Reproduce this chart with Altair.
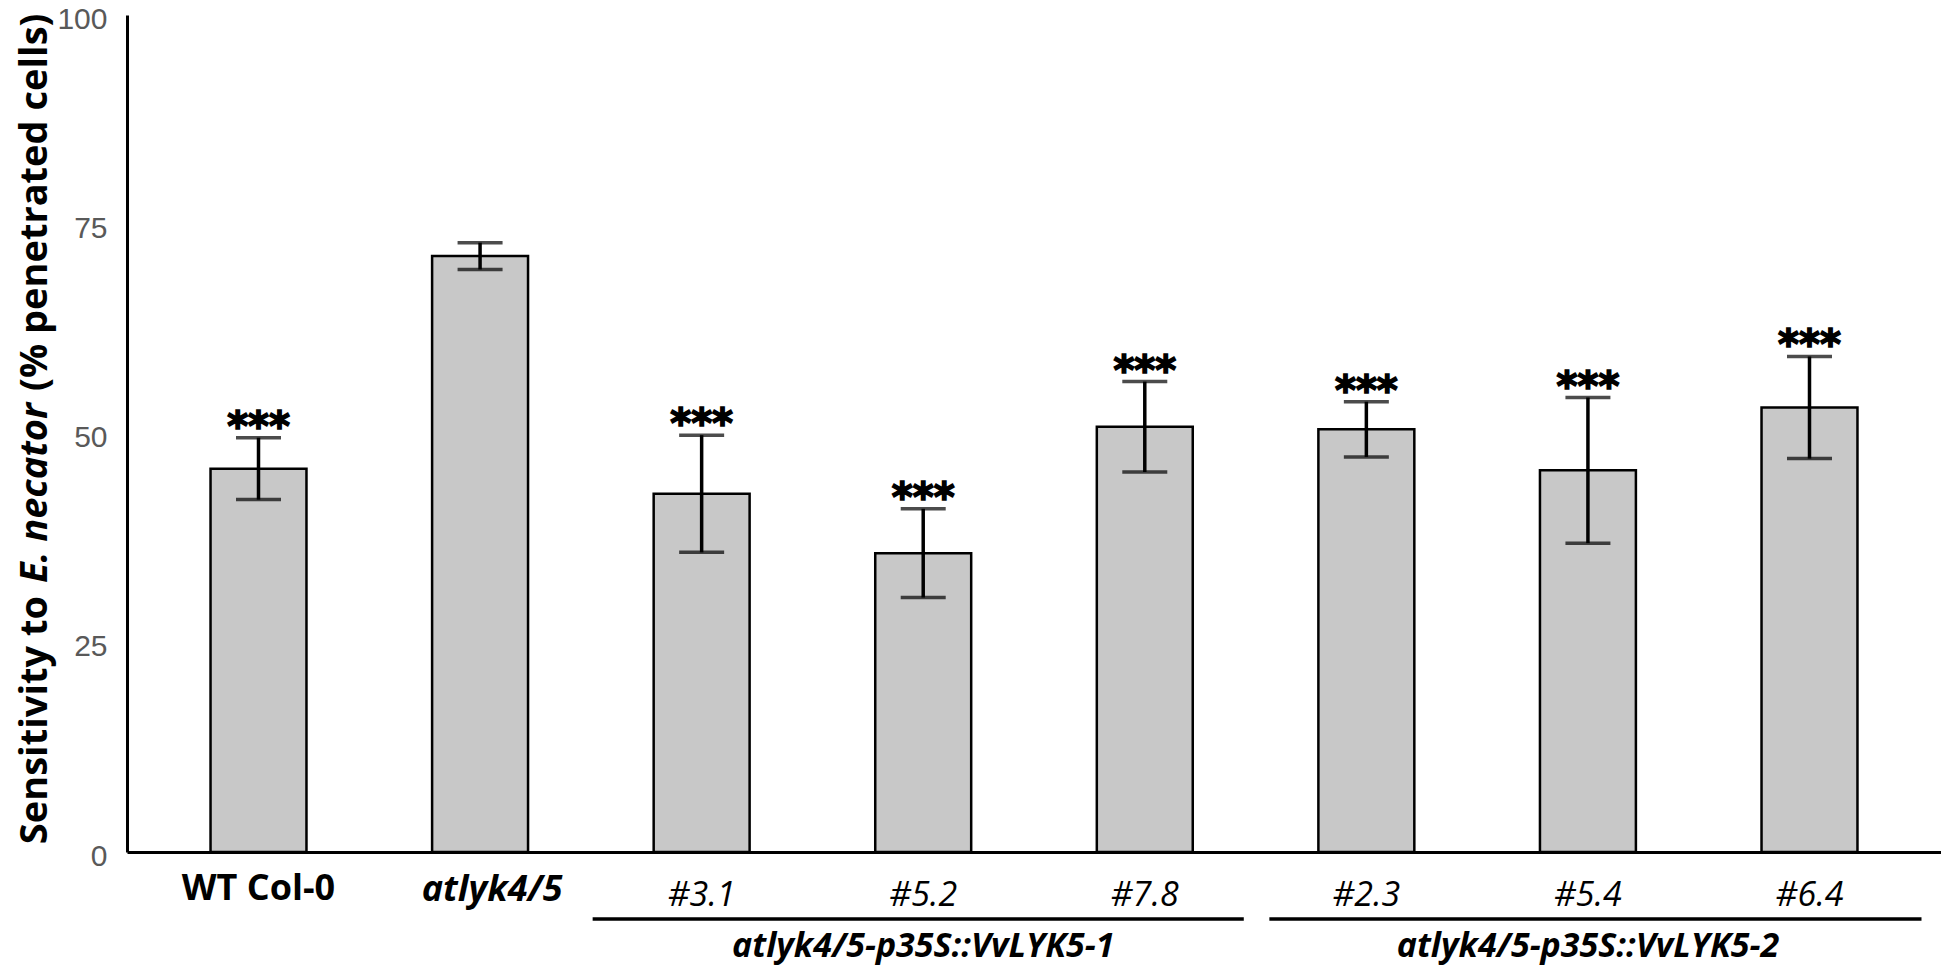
import altair as alt
import pandas as pd

# ---------------- data ----------------
categories = ["WT Col-0", "atlyk4/5", "#3.1", "#5.2", "#7.8", "#2.3", "#5.4", "#6.4"]
means = [45.8, 71.2, 42.8, 35.7, 50.8, 50.5, 45.6, 53.1]
errors = [3.7, 1.6, 7.0, 5.3, 5.4, 3.3, 8.7, 6.1]
significance = ["***", "", "***", "***", "***", "***", "***", "***"]

bold_labels = ["WT Col-0"]
bold_italic_labels = ["atlyk4/5"]
italic_labels = ["#3.1", "#5.2", "#7.8", "#2.3", "#5.4", "#6.4"]

group_names = ["atlyk4/5-p35S::VvLYK5-1", "atlyk4/5-p35S::VvLYK5-2"]
group_first = ["#3.1", "#2.3"]
group_mid = ["#5.2", "#5.4"]
group_last = ["#7.8", "#6.4"]

y_ticks = [0, 25, 50, 75, 100]
title_parts = ["Sensitivity to", "E. necator", "(% penetrated cells)"]

# ---------------- tables ----------------
df = pd.DataFrame({
    "cat": categories,
    "mean": means,
    "lo": [m - e for m, e in zip(means, errors)],
    "hi": [m + e for m, e in zip(means, errors)],
    "sig": significance,
})
groups = pd.DataFrame({"name": group_names, "first": group_first,
                       "mid": group_mid, "last": group_last})

W, H = 1814, 837
FONT = "Open Sans"

xscale = alt.Scale(domain=categories, paddingInner=0.567, paddingOuter=0.377)
x_enc = alt.X("cat:N", scale=xscale, sort=categories, title=None)
y_enc = alt.Y("mean:Q", scale=alt.Scale(domain=[0, 100], nice=False), title=None,
              axis=alt.Axis(values=y_ticks, labelFontSize=30, labelOffset=4))

base = alt.Chart(df)

bars = base.mark_bar(color="#c8c8c8", stroke="black", strokeWidth=2.5).encode(
    x=x_enc, y=y_enc)

err = base.mark_rule(color="black", strokeWidth=3.5).encode(
    x=x_enc, y=alt.Y("lo:Q", title=None), y2="hi:Q")
cap_hi = base.mark_tick(color="black", thickness=3.5, size=45).encode(
    x=x_enc, y=alt.Y("hi:Q", title=None))
cap_lo = base.mark_tick(color="black", thickness=3.5, size=45).encode(
    x=x_enc, y=alt.Y("lo:Q", title=None))

stars = base.mark_text(font="DejaVu Sans", fontWeight="bold", fontSize=40,
                       baseline="alphabetic", dy=2, color="black",
                       stroke="black", strokeWidth=1.6).encode(
    x=x_enc, y=alt.Y("hi:Q", title=None), text="sig:N")

lab_bold = base.transform_filter(
    alt.FieldOneOfPredicate(field="cat", oneOf=bold_labels)
).mark_text(font=FONT, fontWeight="bold", fontSize=36, baseline="alphabetic",
            color="black").encode(x=x_enc, y=alt.value(885), text="cat:N")

lab_bi = base.transform_filter(
    alt.FieldOneOfPredicate(field="cat", oneOf=bold_italic_labels)
).mark_text(font=FONT, fontWeight="bold", fontStyle="italic", fontSize=36,
            baseline="alphabetic", dx=12, color="black").encode(
    x=x_enc, y=alt.value(886), text="cat:N")

lab_it = base.transform_filter(
    alt.FieldOneOfPredicate(field="cat", oneOf=italic_labels)
).mark_text(font=FONT, fontStyle="italic", fontSize=34, baseline="alphabetic",
            color="black").encode(x=x_enc, y=alt.value(891), text="cat:N")

gx_first = alt.X("first:N", scale=xscale, title=None)
g1 = alt.Chart(groups.iloc[[0]])
g2 = alt.Chart(groups.iloc[[1]])
underline1 = g1.mark_rule(color="black", strokeWidth=3.5, xOffset=-109,
                          x2Offset=99).encode(x=gx_first, x2="last:N", y=alt.value(904))
underline2 = g2.mark_rule(color="black", strokeWidth=3.5, xOffset=-97,
                          x2Offset=112).encode(x=gx_first, x2="last:N", y=alt.value(904))
glabel = alt.Chart(groups).mark_text(font=FONT, fontWeight="bold", fontStyle="italic",
                                     fontSize=34, baseline="alphabetic",
                                     color="black").encode(
    x=alt.X("mid:N", scale=xscale, title=None), y=alt.value(942), text="name:N")

# y-axis title with an italic species name
TX = -80
TS = 38
t1 = alt.Chart(pd.DataFrame({"t": [title_parts[0]]})).mark_text(
    font=FONT, fontWeight="bold", fontSize=TS, angle=270, align="right",
    baseline="alphabetic", color="black").encode(
    x=alt.value(TX), y=alt.value(581), text="t:N")
t2 = alt.Chart(pd.DataFrame({"t": [title_parts[1]]})).mark_text(
    font=FONT, fontWeight="bold", fontStyle="italic", fontSize=TS, angle=270,
    align="center", baseline="alphabetic", color="black").encode(
    x=alt.value(TX), y=alt.value(478), text="t:N")
t3 = alt.Chart(pd.DataFrame({"t": [title_parts[2]]})).mark_text(
    font=FONT, fontWeight="bold", fontSize=TS, angle=270, align="left",
    baseline="alphabetic", color="black").encode(
    x=alt.value(TX), y=alt.value(376), text="t:N")

chart = alt.layer(
    bars, err, cap_hi, cap_lo, stars, lab_bold, lab_bi, lab_it,
    underline1, underline2, glabel, t1, t2, t3
).properties(
    width=W, height=H,
    autosize=alt.AutoSizeParams(type="none"),
    padding={"left": 119, "top": 7, "right": 0, "bottom": 119},
    background="white",
).configure_view(stroke=None).configure_axisY(
    labelFontSize=30, labelColor="#595959", labelFont="Liberation Sans",
    labelPadding=20, ticks=False, tickSize=0, grid=False,
    domainColor="black", domainWidth=3
).configure_axisX(
    labels=False, ticks=False, tickSize=0, grid=False,
    domainColor="black", domainWidth=3)

chart.save("out.html", embed_options={"renderer": "svg", "actions": False})
